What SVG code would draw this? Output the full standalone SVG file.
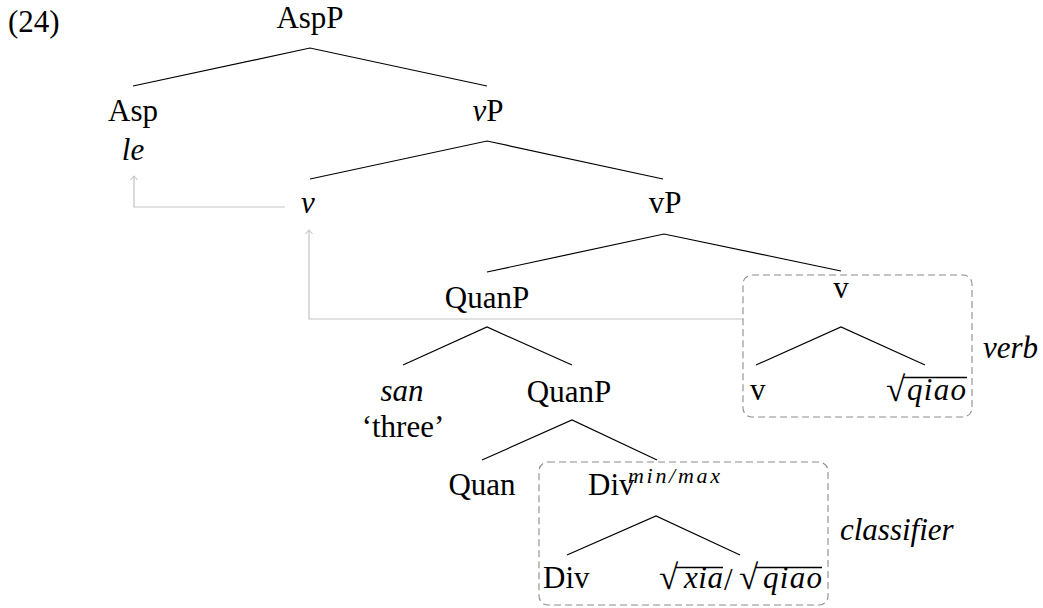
<svg xmlns="http://www.w3.org/2000/svg" width="1043" height="608" viewBox="0 0 1043 608">
<defs>
<style>
text{font-family:"Liberation Serif","Times New Roman",serif;font-size:31px;fill:#000}
.m{text-anchor:middle}
.i{font-style:italic}
.sup{font-size:22px;font-style:italic}
.rad{font-size:35px}
.e{stroke:#000;stroke-width:1.2;fill:none}
.mv{stroke:#c4c4c4;stroke-width:1.2;fill:none}
.box{stroke:#8c8c8c;stroke-width:1.1;fill:none;stroke-dasharray:7 4}
.vin{stroke:#000;stroke-width:1.3}
</style>
<marker id="ah" viewBox="-5 -5 6 10" markerWidth="6" markerHeight="10" markerUnits="userSpaceOnUse" orient="auto" refX="0" refY="0">
<path d="M-4,-3.5 L0,0 L-4,3.5" stroke="#c4c4c4" stroke-width="1.1" fill="none"/>
</marker>
</defs>
<rect width="1043" height="608" fill="#fff"/>
<text x="8" y="32">(24)</text>
<g id="connectors">
<path class="e" d="M133,86 L310,48 L487,86"/>
<path class="e" d="M310,179 L487,141 L663,179"/>
<path class="e" d="M487,272 L664,234 L841,271"/>
<path class="e" d="M403,365 L487,327 L572,365"/>
<path class="e" d="M482,460 L572,420 L657,460"/>
<path class="e" d="M756,365 L841,327 L925,365"/>
<path class="e" d="M567,555 L656,516 L740,555"/>
<path class="mv" d="M285,207 L134,207 L134,176" marker-end="url(#ah)"/>
<path class="mv" d="M743,319 L309,319 L309,230" marker-end="url(#ah)"/>
</g>
<g id="n-AspP"><text class="m" x="310" y="28">AspP</text></g>
<g id="n-Asp"><text class="m" x="133" y="121">Asp</text><text class="m i" x="133" y="160">le</text></g>
<g id="n-vP1"><text class="m" x="488" y="121"><tspan class="i">v</tspan>P</text></g>
<g id="n-v1"><text class="m i" x="308" y="213">v</text></g>
<g id="n-vP2"><text class="m" x="665" y="213">vP</text></g>
<g id="n-QuanP1"><text class="m" x="487" y="308">QuanP</text></g>
<g id="n-san"><text class="m i" x="402" y="401">san</text><text class="m" x="403" y="437">‘three’</text></g>
<g id="n-QuanP2"><text class="m" x="569" y="402">QuanP</text></g>
<g id="n-Quan"><text class="m" x="482" y="495">Quan</text></g>
<g id="n-v2"><text class="m" x="841" y="298">v</text></g>
<g id="n-v3"><text x="750" y="400">v</text></g>
<g id="n-qiao1">
<text class="rad" x="886" y="401">√</text>
<line class="vin" x1="903" y1="377.5" x2="967" y2="377.5"/>
<text class="i" x="907" y="400" textLength="59" lengthAdjust="spacing">qiao</text>
</g>
<g id="n-Div1"><text x="588" y="495">Div</text><text class="sup" x="628" y="483" textLength="92" lengthAdjust="spacing">min/max</text></g>
<g id="n-Div2"><text x="543" y="588">Div</text></g>
<g id="n-root2">
<text class="rad" x="659" y="589">√</text>
<line class="vin" x1="676" y1="567.5" x2="723" y2="567.5"/>
<text class="i" x="684" y="588" textLength="39" lengthAdjust="spacing">xia</text>
<text x="724" y="590">/</text>
<text class="rad" x="739" y="589">√</text>
<line class="vin" x1="756" y1="567.5" x2="822" y2="567.5"/>
<text class="i" x="763" y="588" textLength="59" lengthAdjust="spacing">qiao</text>
</g>
<g id="box-verb">
<rect class="box" x="743" y="275" width="229" height="142" rx="9"/>
<text class="i" x="983" y="358">verb</text>
</g>
<g id="box-classifier">
<rect class="box" x="539" y="462" width="289" height="143" rx="9"/>
<text class="i" x="840" y="540">classifier</text>
</g>
</svg>
